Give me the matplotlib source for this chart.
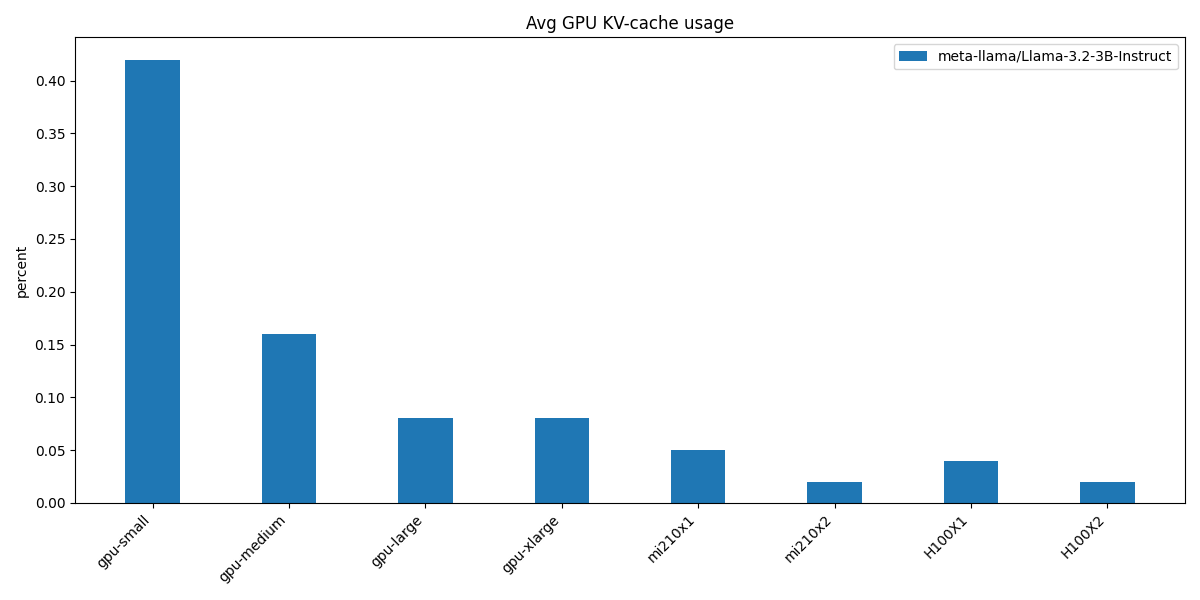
import matplotlib
matplotlib.use("Agg")
import matplotlib.pyplot as plt
import numpy as np

instances = ["gpu-small", "gpu-medium", "gpu-large", "gpu-xlarge",
             "mi210x1", "mi210x2", "H100X1", "H100X2"]
model = "meta-llama/Llama-3.2-3B-Instruct"
kv_usage = [0.42, 0.16, 0.08, 0.08, 0.05, 0.02, 0.04, 0.02]

fig, ax = plt.subplots(figsize=(12, 6), dpi=100)
x = np.arange(len(instances))
ax.bar(x, kv_usage, width=0.4, label=model, color="#1f77b4")
ax.set_xticks(x)
ax.set_xticklabels(instances, rotation=45, ha="right")
ax.set_ylabel("percent")
ax.set_title("Avg GPU KV-cache usage")
ax.legend(loc="upper right")
plt.tight_layout()
fig.savefig("out.png")
